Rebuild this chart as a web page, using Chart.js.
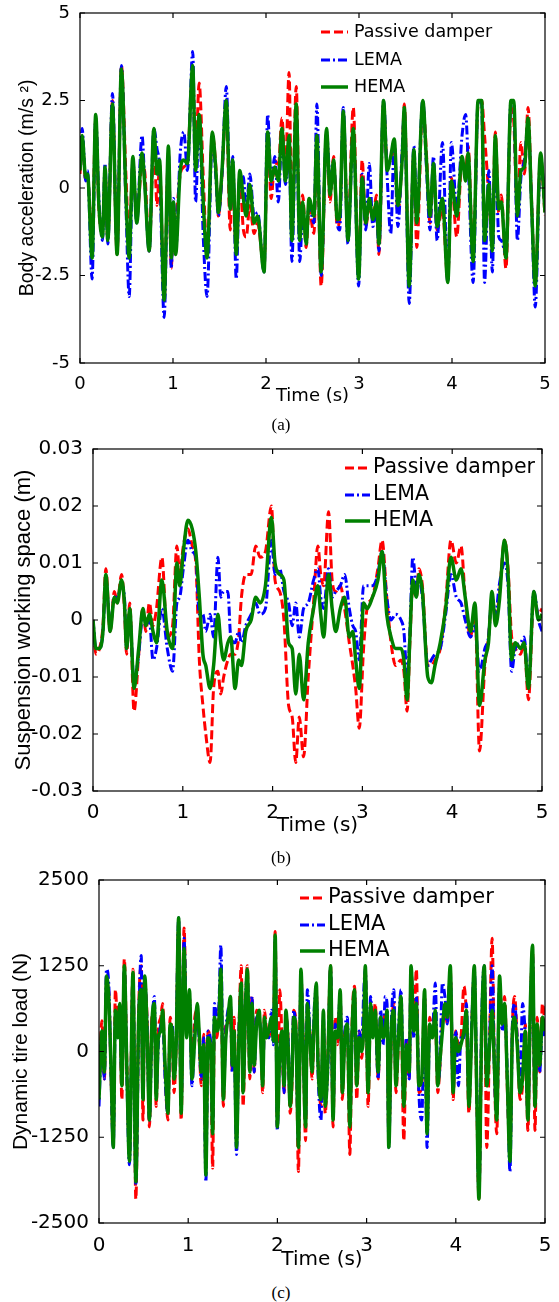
<!DOCTYPE html>
<html>
<head>
<meta charset="utf-8">
<script src="https://cdn.jsdelivr.net/npm/chart.js@4.4.0/dist/chart.umd.min.js"></script>
<style>
body { margin: 0; background: #fff; }
#page { position: relative; width: 559px; height: 1302px; overflow: hidden; }
canvas { position: absolute; left: 0; }
.cap { position: absolute; left: 0; width: 562px; text-align: center; line-height: 20px;
       font-family: "Liberation Serif", "Times New Roman", serif; font-size: 17px; color: #000; }
</style>
</head>
<body>
<div id="page">
  <canvas id="chartA" width="559" height="410" style="top:0px"></canvas>
  <canvas id="chartB" width="559" height="410" style="top:430px"></canvas>
  <canvas id="chartC" width="559" height="412" style="top:860px"></canvas>
  <div class="cap" style="top:415px">(a)</div>
  <div class="cap" style="top:848px">(b)</div>
  <div class="cap" style="top:1283px">(c)</div>
</div>
<script>
/* DATOS */
const seriesNames = ["Passive damper", "LEMA", "HEMA"]
const xTicks = [0, 1, 2, 3, 4, 5]
const xLabels = ["0", "1", "2", "3", "4", "5"]

// (a) body acceleration
const timeA = [0.000,0.023,0.061,0.081,0.130,0.169,0.203,0.242,0.269,0.299,
  0.349,0.399,0.445,0.495,0.529,0.568,0.610,0.667,0.694,0.744,
  0.794,0.829,0.855,0.905,0.951,0.982,1.005,1.028,1.078,1.116,
  1.155,1.212,1.243,1.281,1.327,1.366,1.423,1.461,1.488,1.527,
  1.573,1.615,1.642,1.680,1.718,1.757,1.787,1.826,1.872,1.910,
  1.979,2.018,2.056,2.094,2.133,2.171,2.209,2.248,2.278,2.325,
  2.363,2.394,2.432,2.463,2.516,2.547,2.593,2.651,2.689,2.727,
  2.766,2.793,2.831,2.881,2.938,2.996,3.034,3.073,3.111,3.149,
  3.188,3.214,3.264,3.303,3.341,3.379,3.418,3.464,3.487,3.540,
  3.590,3.621,3.686,3.725,3.763,3.801,3.840,3.897,3.955,3.993,
  4.051,4.108,4.147,4.173,4.227,4.281,4.319,4.350,4.396,4.434,
  4.465,4.503,4.530,4.580,4.634,4.664,4.703,4.741,4.779,4.818,
  4.856,4.895,4.952,5.000]
const passiveA = [0.4,1.4,0.2,0.3,-1.5,2.0,-0.6,-1.3,0.5,-1.5,
  2.5,-1.9,3.5,0.3,-1.6,0.7,-0.8,0.6,0.5,-1.8,
  1.4,-0.5,0.7,-3.2,1.0,-2.3,-0.7,-0.8,0.4,0.6,
  0.8,3.3,0.8,3.0,0.2,-1.9,1.5,0.6,-0.8,0.4,
  2.4,-1.2,0.6,-1.9,0.3,-1.2,-1.4,-0.5,-1.3,-1.0,
  -2.3,1.4,-0.3,0.8,0.6,2.0,0.5,3.3,-1.2,2.9,
  -1.2,-0.2,-1.7,-0.6,-1.3,1.4,-2.8,1.6,-0.4,0.9,
  -1.1,-0.9,2.0,-1.3,2.3,-2.5,0.8,-1.1,-0.5,-0.9,
  -0.2,-1.9,2.4,0.7,0.8,1.2,-0.7,0.9,2.4,-2.7,
  1.0,-1.7,2.4,1.0,-1.0,0.5,-1.2,-0.6,-2.6,0.3,
  -1.4,0.8,0.5,1.2,-2.0,2.4,2.5,1.5,-0.2,-1.5,
  1.6,-0.7,-0.2,-2.3,2.3,1.9,-0.7,1.3,0.4,2.3,
  -0.4,-2.7,0.9,-0.8]
const lemaA = [0.6,1.7,0.2,0.5,-2.6,2.0,-0.3,-1.5,0.7,-1.6,
  2.7,-1.8,3.5,-0.6,-3.1,0.8,-1.0,1.5,0.3,-1.8,
  1.7,1.1,0.6,-3.7,1.0,-2.3,-0.3,-1.8,1.0,1.6,
  0.5,3.9,-0.4,2.0,-1.5,-3.1,1.5,0.3,-0.8,0.4,
  2.9,-0.3,0.9,-2.6,0.4,0.3,-0.6,0.4,-0.8,-0.7,
  -2.4,2.1,0.1,0.9,-0.4,1.6,0.1,1.2,-2.1,2.2,
  -2.1,-0.8,-1.2,-0.5,-1.0,2.4,-2.5,1.6,0.3,0.7,
  -1.0,-1.2,2.3,-1.6,1.6,-2.8,0.4,-1.2,0.7,-1.1,
  -0.6,-1.8,2.5,0.3,-1.3,1.3,-1.1,1.1,2.2,-3.3,
  1.2,-0.8,2.5,0.6,-1.2,0.9,-1.5,1.3,-2.7,1.3,
  -0.6,1.5,2.1,0.8,-2.7,2.5,2.4,-2.7,0.5,-2.4,
  1.2,-1.4,-1.5,-1.9,2.5,2.4,-1.5,0.3,0.8,1.8,
  -0.5,-3.4,0.9,-0.6]
const hemaA = [0.5,1.5,0.3,0.4,-2.0,2.1,-0.5,-1.4,0.6,-1.5,
  2.4,-1.9,3.4,-0.3,-2.0,0.9,-1.0,1.0,0.2,-1.8,
  1.7,0.4,0.8,-3.2,1.2,-2.0,-0.4,-1.9,0.5,0.8,
  0.7,3.5,0.5,2.1,-0.5,-2.0,1.6,0.5,-0.7,0.5,
  2.5,-0.6,0.8,-1.9,0.5,-0.3,-0.8,0.1,-1.0,-0.8,
  -2.4,1.6,0.2,0.6,0.2,1.7,0.2,1.5,-1.5,2.4,
  -1.5,-0.4,-1.6,-0.3,-0.8,1.5,-2.4,1.7,-0.2,0.8,
  -0.9,-0.8,2.2,-1.5,1.7,-2.6,0.3,-1.0,-0.3,-0.9,
  -0.4,-1.6,2.5,0.5,0.9,1.4,-0.5,0.8,2.3,-2.8,
  1.1,-1.0,2.5,0.8,-0.8,0.7,-1.1,-0.3,-2.7,0.2,
  -0.8,0.9,0.2,1.0,-2.1,2.5,2.5,-1.5,0.1,-1.8,
  1.5,-0.6,-0.4,-2.0,2.5,2.5,-0.8,0.5,0.6,2.0,
  -0.5,-2.8,1.0,-0.7]
const yTicksA = [-5, -2.5, 0, 2.5, 5]
const yLabelsA = ["-5", "-2.5", "0", "2.5", "5"]

// (b) suspension working space
const timeB = [0.000,0.032,0.072,0.111,0.143,0.191,0.238,0.270,0.318,0.350,
  0.374,0.409,0.457,0.509,0.556,0.588,0.628,0.668,0.707,0.767,
  0.827,0.886,0.934,0.966,1.006,1.057,1.105,1.145,1.184,1.224,
  1.256,1.304,1.343,1.391,1.423,1.455,1.502,1.534,1.582,1.622,
  1.653,1.701,1.761,1.812,1.860,1.920,1.987,2.027,2.079,2.126,
  2.178,2.218,2.258,2.297,2.345,2.397,2.456,2.504,2.536,2.568,
  2.623,2.663,2.703,2.754,2.802,2.854,2.893,2.925,2.965,3.013,
  3.052,3.112,3.172,3.219,3.271,3.319,3.370,3.430,3.462,3.498,
  3.529,3.561,3.601,3.629,3.668,3.728,3.768,3.808,3.867,3.927,
  3.986,4.046,4.098,4.145,4.205,4.253,4.304,4.364,4.404,4.443,
  4.483,4.523,4.583,4.622,4.662,4.702,4.762,4.801,4.849,4.909,
  4.960,5.000]
const passiveB = [0,-0.006,-0.005,-0.001,0.009,-0.002,0.005,0.003,0.008,0.002,
  -0.006,0.003,-0.016,-0.006,0.002,-0.002,0.003,-0.001,0.002,0.011,
  -0.003,-0.001,0.013,0.008,0.013,0.016,0.013,0.010,-0.007,-0.015,
  -0.020,-0.025,-0.012,-0.009,-0.013,-0.010,-0.007,-0.006,-0.006,-0.003,
  0.004,0.008,0.008,0.013,0.011,0.012,0.020,0.007,0.005,0.000,
  -0.015,-0.017,-0.025,-0.017,-0.024,-0.010,0.003,0.013,0.008,0.006,
  0.019,0.007,0.005,0.006,0.002,-0.004,-0.008,-0.012,-0.019,-0.005,
  0.002,0.004,0.009,0.014,0.004,-0.004,-0.008,-0.007,-0.009,-0.016,
  -0.004,0.006,0.004,0.009,0.006,-0.008,-0.008,-0.007,-0.005,0.003,
  0.014,0.010,0.013,0.004,-0.003,0.002,-0.023,-0.008,-0.003,0.004,
  0.000,0.004,0.014,0.009,-0.003,-0.005,-0.006,-0.004,-0.014,0.004,
  0.001,0.002]
const lemaB = [0,-0.005,-0.005,-0.002,0.007,-0.001,0.004,0.004,0.006,0.004,
  -0.005,0.001,-0.011,-0.006,0.001,-0.001,0.000,-0.007,-0.005,0.002,
  -0.005,-0.009,0.003,0.004,0.009,0.014,0.012,0.011,0.001,0.001,
  -0.002,0.001,-0.003,0.011,0.004,0.005,0.005,-0.003,-0.004,-0.002,
  -0.004,-0.001,0.001,0.003,0.001,0.002,0.014,0.008,0.009,0.005,
  0.003,-0.001,0.003,-0.003,0.002,0.003,0.007,0.009,0.004,0.002,
  0.009,0.004,0.005,0.006,0.008,0.002,-0.001,-0.002,-0.007,0.006,
  0.006,0.006,0.008,0.012,0.004,0.000,0.001,0.000,-0.002,-0.010,
  -0.002,0.011,0.006,0.007,0.004,-0.008,-0.007,-0.006,-0.005,0.001,
  0.008,0.004,0.003,0.000,-0.003,-0.001,-0.009,-0.005,-0.003,0.004,
  0.001,0.006,0.010,0.006,-0.009,-0.005,-0.004,-0.003,-0.011,0.005,
  0.000,-0.002]
const hemaB = [0,-0.005,-0.005,-0.002,0.008,-0.002,0.004,0.003,0.007,0.003,
  -0.005,0.002,-0.012,-0.005,0.002,-0.001,0.001,-0.002,-0.004,0.007,
  -0.002,-0.005,0.010,0.006,0.012,0.0175,0.016,0.012,0.004,-0.006,
  -0.008,-0.012,-0.008,0.001,-0.004,-0.007,-0.004,-0.003,-0.012,-0.007,
  -0.008,-0.002,0.000,0.004,0.003,0.006,0.018,0.010,0.008,0.007,
  -0.004,-0.005,-0.013,-0.006,-0.014,-0.004,0.002,0.006,0.001,-0.003,
  0.008,0.002,-0.002,0.002,0.004,-0.003,-0.002,-0.007,-0.012,0.003,
  0.002,0.004,0.007,0.012,0.001,-0.003,-0.005,-0.005,-0.007,-0.014,
  -0.003,0.007,0.004,0.008,0.005,-0.010,-0.011,-0.008,-0.004,0.002,
  0.011,0.007,0.009,0.004,-0.002,0.003,-0.015,-0.007,-0.004,0.005,
  -0.001,0.003,0.014,0.008,-0.007,-0.004,-0.005,-0.004,-0.012,0.005,
  0.000,0.001]
const yTicksB = [-0.03, -0.02, -0.01, 0, 0.01, 0.02, 0.03]
const yLabelsB = ["-0.03", "-0.02", "-0.01", "0", "0.01", "0.02", "0.03"]

// (c) dynamic tire load
const timeC = [0.000,0.032,0.060,0.084,0.112,0.136,0.160,0.184,0.212,0.232,
  0.256,0.284,0.313,0.341,0.381,0.413,0.445,0.473,0.493,0.513,
  0.541,0.565,0.593,0.621,0.641,0.665,0.693,0.713,0.741,0.773,
  0.797,0.821,0.841,0.865,0.893,0.921,0.954,0.982,1.014,1.042,
  1.074,1.102,1.122,1.146,1.174,1.198,1.222,1.254,1.274,1.294,
  1.322,1.342,1.366,1.394,1.422,1.446,1.474,1.494,1.514,1.542,
  1.567,1.595,1.615,1.643,1.663,1.691,1.715,1.739,1.767,1.795,
  1.815,1.835,1.855,1.879,1.903,1.935,1.955,1.975,1.999,2.027,
  2.051,2.075,2.095,2.119,2.143,2.163,2.183,2.208,2.236,2.264,
  2.288,2.316,2.336,2.364,2.388,2.416,2.436,2.456,2.488,2.516,
  2.536,2.564,2.596,2.624,2.648,2.676,2.704,2.728,2.756,2.784,
  2.812,2.837,2.865,2.889,2.917,2.945,2.969,2.985,3.017,3.045,
  3.069,3.097,3.129,3.157,3.185,3.209,3.229,3.249,3.277,3.305,
  3.329,3.357,3.385,3.417,3.446,3.478,3.498,3.530,3.558,3.586,
  3.618,3.650,3.678,3.706,3.738,3.770,3.798,3.818,3.850,3.878,
  3.906,3.938,3.970,3.998,4.030,4.058,4.091,4.119,4.147,4.179,
  4.207,4.235,4.259,4.291,4.319,4.347,4.379,4.407,4.435,4.459,
  4.491,4.519,4.547,4.579,4.607,4.635,4.659,4.688,4.720,4.748,
  4.780,4.808,4.836,4.860,4.888,4.912,4.940,4.972,5.000]
const passiveC = [-600,450,-400,1000,800,-400,-1350,900,300,650,
  -700,1350,-200,-1500,1200,-2150,600,1250,-1000,1000,
  400,-1100,500,600,-800,300,500,700,-300,-1000,
  500,200,-600,100,1900,-1000,1800,300,800,-300,
  500,600,200,-500,250,-1700,300,-100,-1700,400,
  200,550,1050,-800,400,400,700,-300,500,-1300,
  200,1250,-800,600,1250,-400,800,-300,600,500,
  200,-600,600,300,200,400,200,1750,-1100,900,
  200,-600,500,200,-900,-500,600,400,-1750,1100,
  200,-1300,600,300,-400,500,900,-100,-800,400,
  -900,-100,1250,-1100,500,100,850,-700,300,300,
  -1500,400,950,-700,300,-100,500,1200,-800,600,
  300,700,-400,400,300,600,500,-1300,200,700,
  -600,100,700,-1300,200,-400,1200,400,1200,-600,
  -500,800,-1100,500,300,500,-600,-300,400,600,
  400,1200,-700,300,100,200,950,500,-900,400,
  1150,-700,-2150,300,1100,-1400,200,1650,-400,-1200,
  900,500,800,-600,-1500,400,800,200,-700,-500,
  400,-1150,600,1500,-1150,500,-300,700,400]
const lemaC = [-800,200,-400,1200,900,-400,-1400,500,300,600,
  -400,1200,-400,-1650,1100,-1950,400,1400,-700,1000,
  300,-1000,300,800,-600,100,400,500,-400,-900,
  300,400,-300,200,1950,-800,1650,300,800,-500,
  300,600,200,-400,200,-1900,300,100,-1100,700,
  500,600,1550,-600,300,600,700,-300,200,-1500,
  200,900,-500,800,1100,-200,800,-300,500,500,
  200,-400,400,300,200,600,100,1650,-1150,100,
  200,-600,500,200,-700,-300,600,200,-1300,1100,
  200,-1000,900,300,-200,700,900,-300,-1000,500,
  -700,-300,1200,-900,400,300,800,-500,300,500,
  -1000,200,800,-400,300,100,900,1200,-500,800,
  300,500,-400,600,100,800,700,-1400,400,900,
  -400,300,900,-700,200,-400,1200,200,800,-600,
  -1000,800,-1400,300,300,1000,-400,-300,1000,800,
  400,1150,-500,300,-500,200,200,700,-700,400,
  1200,-500,-2100,500,1250,-400,200,1250,-400,-900,
  1000,300,600,-400,-1750,400,700,200,-500,700,
  200,-900,600,1400,-700,300,-300,400,200]
const hemaC = [-700,300,-300,1100,700,-300,-1400,600,200,700,
  -500,1250,-300,-1600,1150,-1900,500,900,-700,1100,
  200,-1000,400,700,-700,200,300,600,-200,-900,
  400,300,-400,100,1950,-900,1500,200,900,-400,
  200,700,300,-300,100,-1800,200,0,-1200,500,
  300,400,1200,-700,200,500,800,-200,300,-1400,
  100,1000,-600,700,1200,-300,700,-200,400,600,
  100,-500,500,200,300,500,150,1700,-1100,0,
  300,-500,600,100,-800,-400,500,300,-1400,1200,
  100,-1100,700,200,-300,600,1000,-200,-700,600,
  -800,-200,1250,-1000,300,200,900,-600,200,400,
  -1100,300,900,-500,200,0,400,1250,-600,700,
  200,600,-300,500,200,300,600,-1400,300,600,
  -500,200,800,-800,100,-300,1250,300,700,-500,
  -400,900,-1200,400,200,600,-500,-200,300,700,
  500,1250,-600,200,0,100,300,600,-800,300,
  1250,-600,-2150,400,1250,-500,100,600,-300,-1000,
  1100,400,700,-500,-1600,300,500,100,-600,-400,
  300,-1000,700,1550,-800,400,-200,500,300]
const yTicksC = [-2500, -1250, 0, 1250, 2500]
const yLabelsC = ["-2500", "-1250", "0", "1250", "2500"]

/* ESTILOS */
const colores = ["#ff0000", "#0000ff", "#008000"]
const anchos = [3, 3, 3.5]
const trazos = [[9, 4], [9, 3, 2, 3], []]
const fuente = "'DejaVu Sans', 'Liberation Sans', sans-serif"
const fuenteVert = "'Liberation Sans', Arial, sans-serif"

/* FUNCIONES */
// marco con marcas hacia dentro (estilo MATLAB) + leyenda dentro del area
function marco(cfg) {
    return {
        id: "marco",
        afterDraw(chart) {
            const ctx = chart.ctx
            const a = chart.chartArea
            const sx = chart.scales.x
            const sy = chart.scales.y
            ctx.save()
            ctx.strokeStyle = "#000"
            ctx.lineWidth = 1.2
            ctx.setLineDash([])
            ctx.strokeRect(a.left, a.top, a.right - a.left, a.bottom - a.top)
            ctx.beginPath()
            xTicks.forEach(v => {
                const px = sx.getPixelForValue(v)
                ctx.moveTo(px, a.bottom); ctx.lineTo(px, a.bottom - 5)
                ctx.moveTo(px, a.top); ctx.lineTo(px, a.top + 5)
            })
            cfg.yTicks.forEach(v => {
                const py = sy.getPixelForValue(v)
                ctx.moveTo(a.left, py); ctx.lineTo(a.left + 5, py)
                ctx.moveTo(a.right, py); ctx.lineTo(a.right - 5, py)
            })
            ctx.stroke()

            // leyenda
            const lg = cfg.legend
            ctx.font = lg.size + "px " + fuente
            ctx.textBaseline = "middle"
            ctx.textAlign = "left"
            chart.data.datasets.forEach((ds, k) => {
                const y = lg.rows[k]
                ctx.fillStyle = "#fff"
                ctx.fillRect(lg.x0 - 2, y - lg.size * 0.6, lg.tx - lg.x0 + ctx.measureText(ds.label).width + 4, lg.size * 1.2)
                ctx.strokeStyle = ds.borderColor
                ctx.lineWidth = ds.borderWidth
                ctx.setLineDash(ds.borderDash)
                ctx.beginPath()
                ctx.moveTo(lg.x0, y); ctx.lineTo(lg.x1, y)
                ctx.stroke()
                ctx.fillStyle = "#000"
                ctx.fillText(ds.label, lg.tx, y)
            })
            ctx.restore()
        }
    }
}

function grafico(id, cfg) {
    const datasets = seriesNames.map((nombre, k) => ({
        label: nombre,
        data: cfg.time.map((t, i) => ({ x: t, y: cfg.series[k][i] })),
        borderColor: colores[k],
        borderWidth: anchos[k],
        borderDash: trazos[k],
        pointRadius: 0,
        fill: false,
        cubicInterpolationMode: "monotone",
        order: 3 - k
    }))

    return new Chart(document.getElementById(id), {
        type: "line",
        data: { datasets },
        options: {
            responsive: false,
            animation: false,
            events: [],
            layout: { padding: { top: cfg.padTop, right: cfg.padRight, left: 0, bottom: 0 } },
            plugins: { legend: { display: false }, tooltip: { enabled: false } },
            scales: {
                x: {
                    type: "linear", min: 0, max: 5,
                    grid: { display: false }, border: { display: false },
                    afterBuildTicks: s => { s.ticks = xTicks.map(v => ({ value: v })) },
                    afterFit: s => { s.height = cfg.xAxisH },
                    ticks: {
                        color: "#000", padding: cfg.xTickPad, maxRotation: 0, autoSkip: false,
                        font: { family: fuente, size: cfg.tickSize },
                        callback: (v, i) => xLabels[i]
                    },
                    title: {
                        display: true, text: "Time (s)", color: "#000",
                        font: { family: fuente, size: cfg.xTitleSize },
                        padding: { top: 0, bottom: cfg.xTitlePad }
                    }
                },
                y: {
                    type: "linear", min: cfg.yTicks[0], max: cfg.yTicks[cfg.yTicks.length - 1],
                    grid: { display: false }, border: { display: false },
                    afterBuildTicks: s => { s.ticks = cfg.yTicks.map(v => ({ value: v })) },
                    afterFit: s => { s.width = cfg.left },
                    ticks: {
                        color: "#000", padding: 2, autoSkip: false,
                        font: { family: fuente, size: cfg.tickSize },
                        callback: (v, i) => cfg.yLabels[i]
                    },
                    title: {
                        display: true, text: cfg.yTitle, color: "#000",
                        font: { family: fuenteVert, size: cfg.yTitleSize },
                        padding: { top: cfg.yTitlePad, bottom: 0 }
                    }
                }
            }
        },
        plugins: [marco(cfg)]
    })
}

/* GRAFICOS */
grafico("chartA", {
    time: timeA, series: [passiveA, lemaA, hemaA],
    yTicks: yTicksA, yLabels: yLabelsA, yTitle: "Body acceleration (m/s \u00B2)",
    left: 80, padTop: 13, padRight: 14, xAxisH: 47,
    tickSize: 18, xTitleSize: 18, yTitleSize: 19.5, xTickPad: 3, xTitlePad: 3, yTitlePad: 16,
    legend: { x0: 321, x1: 348, tx: 354, rows: [32, 60, 87], size: 17.5 }
})

grafico("chartB", {
    time: timeB, series: [passiveB, lemaB, hemaB],
    yTicks: yTicksB, yLabels: yLabelsB, yTitle: "Suspension working space (m)",
    left: 93, padTop: 19, padRight: 17, xAxisH: 49,
    tickSize: 20, xTitleSize: 20, yTitleSize: 22, xTickPad: 2, xTitlePad: 2, yTitlePad: 11,
    legend: { x0: 345, x1: 370, tx: 373, rows: [38, 65, 91], size: 20.5 }
})

grafico("chartC", {
    time: timeC, series: [passiveC, lemaC, hemaC],
    yTicks: yTicksC, yLabels: yLabelsC, yTitle: "Dynamic tire load (N)",
    left: 99, padTop: 20, padRight: 14, xAxisH: 49,
    tickSize: 20, xTitleSize: 20, yTitleSize: 21, xTickPad: 3, xTitlePad: 0, yTitlePad: 9,
    legend: { x0: 300, x1: 325, tx: 328, rows: [38, 65, 91], size: 21 }
})
</script>
</body>
</html>
